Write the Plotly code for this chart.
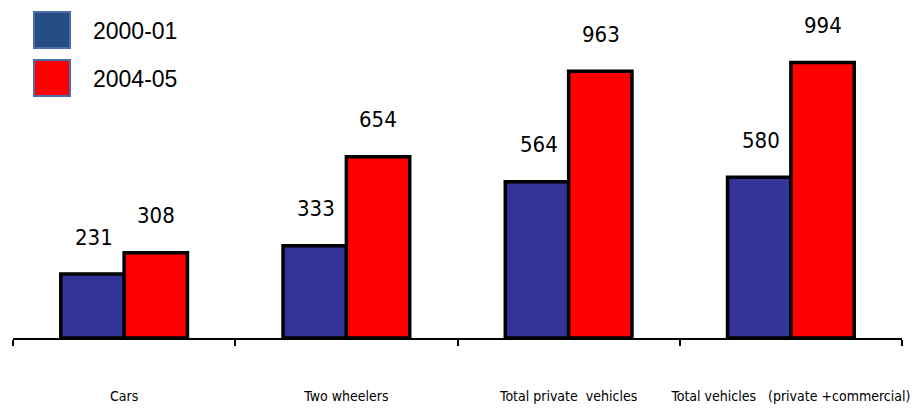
import plotly.graph_objects as go

categories = ["Cars", "Two wheelers", "Total private  vehicles", "Total vehicles   (private +commercial)"]
series_names = ["2000-01", "2004-05"]
values_2000 = [231, 333, 564, 580]
values_2004 = [308, 654, 963, 994]

fill_colors = ["#333399", "#FF0000"]
legend_fills = ["#254C80", "#FF0000"]
font_family = "DejaVu Sans Condensed, Liberation Sans, Arial"

fig = go.Figure()
for name, vals, col in zip(series_names, [values_2000, values_2004], fill_colors):
    fig.add_trace(go.Bar(
        x=categories, y=vals, name=name,
        marker=dict(color=col, line=dict(color="black", width=3.5)),
        showlegend=False,
    ))

# value labels floating above each bar
for idx, vals in enumerate([values_2000, values_2004]):
    shift = -30 if idx == 0 else 32
    for c, v in zip(categories, vals):
        fig.add_annotation(x=c, y=v, text=str(v), showarrow=False,
                           xshift=shift, yshift=37, yanchor="middle",
                           font=dict(size=22, color="black", family=font_family))

# legend swatches and labels
for i, (name, col) in enumerate(zip(series_names, legend_fills)):
    y0 = 12 + i * 48
    fig.add_shape(type="rect", xref="paper", yref="paper",
                  x0=(34 - 13) / 889, x1=(70 - 13) / 889,
                  y0=(338 - (y0 + 36)) / 338, y1=(338 - y0) / 338,
                  fillcolor=col, line=dict(color="#4A6FA8", width=2),
                  layer="above")
    fig.add_annotation(xref="paper", yref="paper",
                       x=(91 - 13) / 889, y=(338 - (y0 + 19)) / 338,
                       text=name, showarrow=False, xanchor="left", yanchor="middle",
                       font=dict(size=23, color="black", family="Liberation Sans, Arial"))

fig.update_layout(
    width=918, height=408,
    margin=dict(l=13, r=16, t=0, b=70, autoexpand=False),
    paper_bgcolor="white", plot_bgcolor="white",
    barmode="group", bargap=0.43, bargroupgap=0,
    showlegend=False,
    xaxis=dict(
        type="category", tickson="boundaries", ticks="outside", ticklen=6,
        tickwidth=2, tickcolor="black", tickangle=0, automargin=False,
        showline=True, linecolor="black", linewidth=2,
        ticklabelstandoff=44,
        tickfont=dict(size=14, color="black", family=font_family),
        showgrid=False,
    ),
    yaxis=dict(range=[0, 1220], visible=False, showgrid=False, zeroline=False,
               automargin=False),
)

fig.write_html("out.html")
